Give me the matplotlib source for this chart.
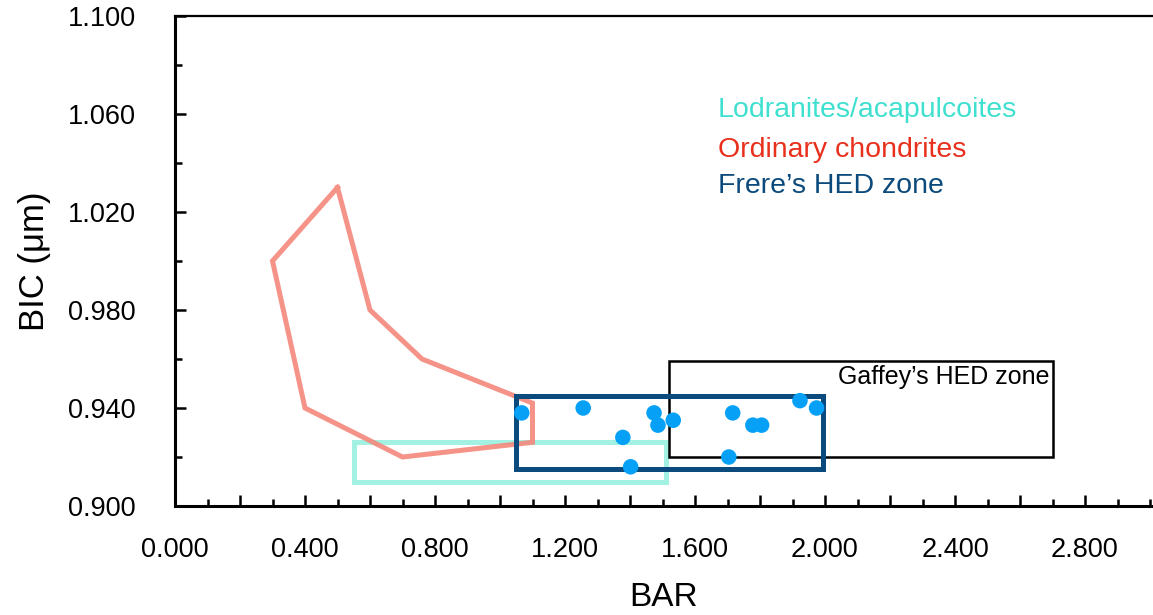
"""
BAR vs BIC band-parameter plot with meteorite class fields
"""

import matplotlib
matplotlib.use('Agg')
import matplotlib.pyplot as plt
from matplotlib.patches import Rectangle
from matplotlib.ticker import MultipleLocator, FixedLocator

plt.rcParams['font.family'] = ['Liberation Sans', 'DejaVu Sans']

# Asteroid band parameters (BAR, BIC in um)
bar_vals = [1.067, 1.256, 1.474, 1.486, 1.533, 1.378, 1.402, 1.716, 1.778, 1.805, 1.923, 1.974, 1.704]
bic_vals = [0.938, 0.940, 0.938, 0.933, 0.935, 0.928, 0.916, 0.938, 0.933, 0.933, 0.943, 0.940, 0.920]

# Ordinary chondrite field outline
oc_bar = [0.50, 0.30, 0.40, 0.70, 1.10, 1.10, 0.76, 0.60, 0.50]
oc_bic = [1.030, 1.000, 0.940, 0.920, 0.926, 0.942, 0.960, 0.980, 1.030]

# Rectangular zones: (bar_min, bar_max, bic_min, bic_max)
lodranite_zone = (0.55, 1.51, 0.910, 0.926)
frere_zone = (1.05, 1.995, 0.915, 0.945)
gaffey_zone = (1.52, 2.70, 0.920, 0.959)

y_ticks = [0.900, 0.940, 0.980, 1.020, 1.060, 1.100]

fig = plt.figure(figsize=(11.53, 6.15), dpi=100)
ax = fig.add_axes([175/1153, 1 - 506/615, 1 - 175/1153, (506 - 16)/615])

# chondrite polygon
ax.plot(oc_bar, oc_bic, color='#f4877b', lw=3.6, alpha=0.9, solid_joinstyle='miter', zorder=2)

def draw_zone(zone, color, lw, z, alpha=1.0):
    x0, x1, y0, y1 = zone
    ax.add_patch(Rectangle((x0, y0), x1 - x0, y1 - y0, fill=False,
                           edgecolor=color, linewidth=lw, alpha=alpha, zorder=z))

draw_zone(lodranite_zone, '#a3f1e2', 3.6, 1)
draw_zone(gaffey_zone, 'black', 1.8, 3)
draw_zone(frere_zone, '#0b4a7c', 3.6, 4)

ax.scatter(bar_vals, bic_vals, s=125, color='#06a1f6', edgecolors='none', zorder=5)

ax.text(2.69, 0.9525, 'Gaffey\u2019s HED zone', ha='right', va='center', fontsize=18, color='black')

# labels standing in for a legend
ax.text(1.67, 1.0615, 'Lodranites/acapulcoites', color='#40e0d0', fontsize=20.5, va='center')
ax.text(1.67, 1.0455, 'Ordinary chondrites', color='#e8301c', fontsize=20.5, va='center')
ax.text(1.67, 1.0305, 'Frere\u2019s HED zone', color='#0b4a7c', fontsize=20.5, va='center')

ax.set_xlim(0, (1153 - 175) / 325)
ax.set_ylim(0.9, 1.1)

ax.xaxis.set_major_locator(FixedLocator([0.2 * i for i in range(15)]))
ax.xaxis.set_minor_locator(MultipleLocator(0.1))
ax.set_xticklabels(['%.3f' % (0.2 * i) if i % 2 == 0 else '' for i in range(15)])
ax.yaxis.set_major_locator(FixedLocator(y_ticks))
ax.yaxis.set_minor_locator(FixedLocator([0.92, 0.96, 1.00, 1.04, 1.08]))
ax.set_yticklabels(['%.3f' % v for v in y_ticks])

ax.tick_params(axis='both', which='major', direction='in', length=8, width=1.8, labelsize=19.5)
ax.tick_params(axis='both', which='minor', direction='in', length=5, width=1.8)
ax.tick_params(axis='x', which='major', pad=22)
ax.tick_params(axis='y', which='major', pad=28)

for side in ['left', 'bottom']:
    ax.spines[side].set_linewidth(2.2)
ax.spines['top'].set_linewidth(1.6)
ax.spines['right'].set_visible(False)

ax.set_xlabel('BAR', fontsize=24, labelpad=14)
ax.set_ylabel('BIC (\u03bcm)', fontsize=25, labelpad=12)

plt.savefig('out.png', dpi=100)
